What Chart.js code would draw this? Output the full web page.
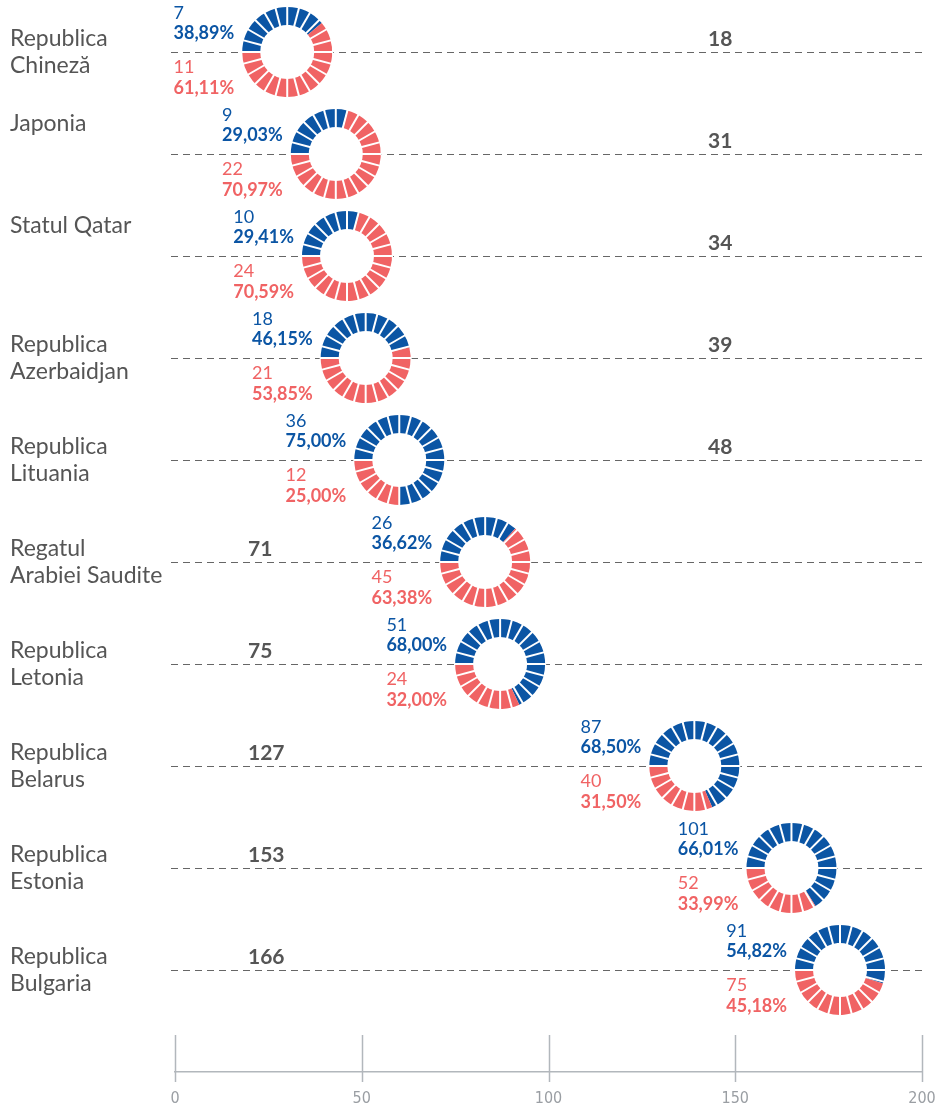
<!DOCTYPE html>
<html>
<head>
<meta charset="utf-8">
<script src="https://cdn.jsdelivr.net/npm/chart.js@4.4.1/dist/chart.umd.min.js"></script>
<style>
  html, body { margin: 0; padding: 0; background: #fff; }
  #wrap { width: 939px; height: 1107px; }
</style>
</head>
<body>
<div id="wrap"><canvas id="partners"></canvas></div>
<script>
const countries = [
  ["Republica", "Chineză"],
  ["Japonia"],
  ["Statul Qatar"],
  ["Republica", "Azerbaidjan"],
  ["Republica", "Lituania"],
  ["Regatul", "Arabiei Saudite"],
  ["Republica", "Letonia"],
  ["Republica", "Belarus"],
  ["Republica", "Estonia"],
  ["Republica", "Bulgaria"],
];
const blueValues = [7, 9, 10, 18, 36, 26, 51, 87, 101, 91];
const redValues = [11, 22, 24, 21, 12, 45, 24, 40, 52, 75];
const totals = [18, 31, 34, 39, 48, 71, 75, 127, 153, 166];
const xTicks = [0, 50, 100, 150, 200];

const BLUE = "#0b55a4";
const RED = "#f06364";
const GRAY = "#555";
const AXIS = "#b2b7bc";

const pct = (v, t) => (v / t * 100).toFixed(2).replace(".", ",") + "%";

const ctx = document.getElementById("partners");

Chart.defaults.font.family = "Lato";
Chart.defaults.color = GRAY;

// dashed row lines, country names
const rowsPlugin = {
  id: "rows",
  beforeDatasetsDraw(chart) {
    const c = chart.ctx, area = chart.chartArea;
    const y = chart.scales.y;
    c.save();
    c.strokeStyle = "#666";
    c.lineWidth = 1;
    c.setLineDash([7, 5]);
    totals.forEach((t, i) => {
      const py = Math.round(y.getPixelForValue(i)) + 0.5;
      c.beginPath();
      c.moveTo(area.left - 4, py);
      c.lineTo(area.right, py);
      c.stroke();
    });
    c.setLineDash([]);
    c.fillStyle = GRAY;
    c.font = "23px Lato";
    c.textBaseline = "middle";
    countries.forEach((lines, i) => {
      const py = y.getPixelForValue(i);
      const start = lines.length > 1 ? py - 13 : py - 30;
      lines.forEach((l, k) => c.fillText(l, 10, start + k * 27));
    });
    c.restore();
  },
};

// segmented rings + labels
const ringsPlugin = {
  id: "rings",
  afterDatasetsDraw(chart) {
    const c = chart.ctx, area = chart.chartArea;
    const x = chart.scales.x, y = chart.scales.y;
    const R = 45, r = 27;
    c.save();
    totals.forEach((t, i) => {
      const left = x.getPixelForValue(t);
      const cx = left + R;
      const cy = y.getPixelForValue(i);
      const split = Math.PI + 2 * Math.PI * blueValues[i] / t;

      c.fillStyle = "#fff";
      c.beginPath();
      c.arc(cx, cy, R, 0, 2 * Math.PI);
      c.fill();

      c.fillStyle = BLUE;
      c.beginPath();
      c.arc(cx, cy, R, Math.PI, split);
      c.arc(cx, cy, r, split, Math.PI, true);
      c.closePath();
      c.fill();

      c.fillStyle = RED;
      c.beginPath();
      c.arc(cx, cy, R, split, 3 * Math.PI);
      c.arc(cx, cy, r, 3 * Math.PI, split, true);
      c.closePath();
      c.fill();

      c.strokeStyle = "#fff";
      c.lineWidth = 2;
      for (let k = 0; k < 24; k++) {
        const a = k * Math.PI / 12;
        c.beginPath();
        c.moveTo(cx + Math.cos(a) * (r - 1), cy + Math.sin(a) * (r - 1));
        c.lineTo(cx + Math.cos(a) * (R + 1), cy + Math.sin(a) * (R + 1));
        c.stroke();
      }

      // part labels
      const bp = pct(blueValues[i], t), rp = pct(redValues[i], t);
      c.font = "bold 18px Lato";
      const tx = left - 8 - c.measureText(bp).width;
      c.textBaseline = "middle";
      c.fillStyle = BLUE;
      c.font = "18px Lato";
      c.fillText(String(blueValues[i]), tx, cy - 39);
      c.font = "bold 18px Lato";
      c.fillText(bp, tx, cy - 19);
      c.fillStyle = RED;
      c.font = "18px Lato";
      c.fillText(String(redValues[i]), tx, cy + 15);
      c.font = "bold 18px Lato";
      c.fillText(rp, tx, cy + 36);

      // total
      c.fillStyle = GRAY;
      c.font = "bold 21px Lato";
      const lx = t < 60 ? area.right - 214 : area.left + 73;
      c.fillText(String(t), lx, cy - 13);
    });
    c.restore();
  },
};

// axis tick marks
const ticksPlugin = {
  id: "tickMarks",
  afterDraw(chart) {
    const c = chart.ctx, area = chart.chartArea, x = chart.scales.x;
    c.save();
    c.strokeStyle = AXIS;
    c.lineWidth = 1.5;
    xTicks.forEach(v => {
      const px = Math.round(x.getPixelForValue(v)) + 0.5;
      c.beginPath();
      c.moveTo(px, area.bottom - 37);
      c.lineTo(px, area.bottom + 10);
      c.stroke();
    });
    c.restore();
  },
};

new Chart(ctx, {
  type: "scatter",
  data: {
    datasets: [{
      data: totals.map((t, i) => ({ x: t, y: i })),
      pointRadius: 0,
    }],
  },
  options: {
    responsive: true,
    maintainAspectRatio: false,
    animation: false,
    layout: { padding: { left: 175, right: 17, top: 1, bottom: 0 } },
    plugins: {
      legend: { display: false },
      tooltip: { enabled: false },
    },
    scales: {
      x: {
        min: 0,
        max: 200,
        afterFit: (s) => { s.height = 35; },
        afterBuildTicks: (s) => { s.ticks = xTicks.map(v => ({ value: v })); },
        grid: { display: false, drawTicks: true, tickLength: 17 },
        border: { color: AXIS, width: 1.5 },
        ticks: {
          padding: 0,
          color: "#9a9ea3",
          font: { family: "'Liberation Sans Narrow', 'DejaVu Sans Condensed', Roboto, sans-serif", size: 16 },
        },
      },
      y: {
        display: false,
        reverse: true,
        min: -0.5,
        max: 10,
      },
    },
  },
  plugins: [rowsPlugin, ringsPlugin, ticksPlugin],
});
</script>
</body>
</html>
